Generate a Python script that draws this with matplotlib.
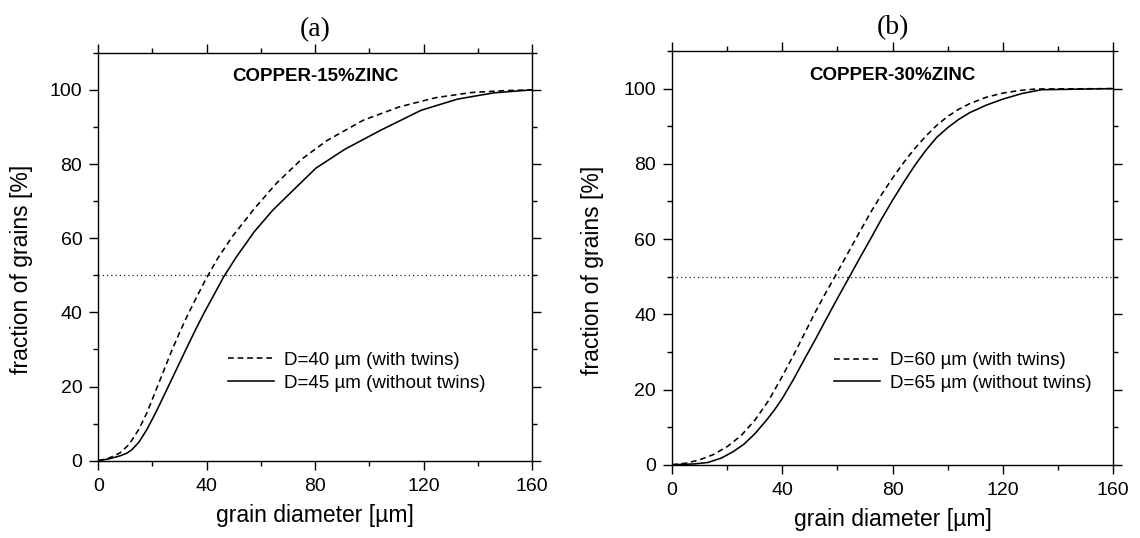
import matplotlib
matplotlib.use("Agg")
import matplotlib.pyplot as plt
from matplotlib.ticker import FixedLocator

plt.rcParams["font.family"] = ["Liberation Sans", "DejaVu Sans"]

# Cumulative grain-size distributions, Cu-15%Zn
cu15_twins_x = [0, 4, 8, 11.4, 15, 18, 21, 24, 27, 30, 33, 36, 39.5, 44, 49.5,
                57.6, 65.7, 75, 84.3, 97.7, 111, 124.5, 137.9, 150, 160]
cu15_twins_y = [0, 0.7, 2.1, 4.4, 8.5, 13, 18.5, 24, 29.5, 34.6, 39.3, 43.7, 48.7,
                54.5, 60.5, 68, 74.8, 81.3, 86.3, 91.8, 95.4, 97.9, 99.3, 99.8, 100]
cu15_notwins_x = [0, 4, 8, 10.5, 12.3, 15, 18, 21, 24, 27, 30, 33, 36, 39, 42.5,
                  46.2, 50.9, 57.6, 64.3, 71, 80.3, 91, 104.4, 119.1, 132.5,
                  145.9, 160]
cu15_notwins_y = [0, 0.5, 1.3, 2.0, 2.9, 5.0, 8.5, 12.7, 17.2, 21.8, 26.4, 31.0,
                  35.5, 39.8, 44.5, 49.5, 54.9, 61.8, 67.5, 72.3, 78.9, 84.0,
                  89.2, 94.5, 97.5, 99.2, 100]

# Cumulative grain-size distributions, Cu-30%Zn
cu30_twins_x = [0, 5, 10, 15, 20, 25, 30, 35, 40, 44, 48, 52, 56, 59.1, 64, 68, 72,
                76, 80, 84, 88, 92, 96, 100, 104, 108, 114, 120, 126, 132, 160]
cu30_twins_y = [0, 0.4, 1.3, 2.7, 4.8, 7.7, 11.8, 17, 23.5, 29, 34.8, 40.6, 46,
                50, 56.5, 61.8, 67, 71.8, 76.2, 80.3, 84, 87.3, 90.2, 92.6, 94.5,
                96, 97.7, 98.8, 99.5, 99.9, 100]
cu30_notwins_x = [0, 8, 13, 18, 22, 26, 30, 34, 37, 40, 44, 48, 52, 56, 60, 64.4,
                  68, 72, 76, 80, 84, 88, 92, 96, 100, 104, 108, 114, 120, 127,
                  134, 160]
cu30_notwins_y = [0, 0.2, 0.6, 1.8, 3.4, 5.4, 8.2, 11.6, 14.4, 17.6, 22.6, 28,
                  33.3, 38.8, 44.2, 50, 54.8, 60, 65.3, 70.3, 75, 79.5, 83.5, 87,
                  89.6, 91.8, 93.6, 95.6, 97.2, 98.7, 99.7, 100]

panel_tags = ["(a)", "(b)"]
alloy_names = ["COPPER-15%ZINC", "COPPER-30%ZINC"]
labels_twins = ["D=40 µm (with twins)", "D=60 µm (with twins)"]
labels_notwins = ["D=45 µm (without twins)", "D=65 µm (without twins)"]
x_major = [0, 40, 80, 120, 160]
x_minor = [20, 60, 100, 140]
y_major = [0, 20, 40, 60, 80, 100]
y_minor = [10, 30, 50, 70, 90, 110]
median_level = 50

fig = plt.figure(figsize=(11.4, 5.38), dpi=100)
axes_rects = [[0.0862, 0.1437, 0.3805, 0.7582],
              [0.5895, 0.1362, 0.3868, 0.7690]]
legend_anchor = [(0.300, 0.218), (0.368, 0.224)]
ylabel_x = [-0.150, -0.154]

series = [
    (cu15_twins_x, cu15_twins_y, cu15_notwins_x, cu15_notwins_y),
    (cu30_twins_x, cu30_twins_y, cu30_notwins_x, cu30_notwins_y),
]

for i, rect in enumerate(axes_rects):
    ax = fig.add_axes(rect)
    tx, ty, nx, ny = series[i]
    ax.axhline(median_level, color="0.15", lw=0.9, ls=(0, (1, 2.4)), zorder=1)
    ax.plot(tx, ty, color="black", lw=1.15, ls=(0, (3.6, 2.4)),
            label=labels_twins[i], zorder=3)
    ax.plot(nx, ny, color="black", lw=1.15, ls="-",
            label=labels_notwins[i], zorder=3)

    ax.set_xlim(0, 160)
    ax.set_ylim(0, 110)
    ax.xaxis.set_major_locator(FixedLocator(x_major))
    ax.xaxis.set_minor_locator(FixedLocator(x_minor))
    ax.yaxis.set_major_locator(FixedLocator(y_major))
    ax.yaxis.set_minor_locator(FixedLocator(y_minor))
    ax.tick_params(which="both", direction="out", top=True, right=True,
                   width=1.0, color="black")
    ax.tick_params(which="major", length=6.5, labelsize=14, pad=5)
    ax.tick_params(which="minor", length=3.3)
    ax.tick_params(axis="x", which="major", pad=6)
    for sp in ax.spines.values():
        sp.set_linewidth(1.0)

    ax.set_xlabel("grain diameter [µm]", fontsize=16.5)
    ax.xaxis.set_label_coords(0.5, -0.105)
    ax.set_ylabel("fraction of grains [%]", fontsize=16.5)
    ax.yaxis.set_label_coords(ylabel_x[i], 0.47)

    ax.set_title(panel_tags[i], fontsize=20, family=["Liberation Serif"], pad=12)
    ax.text(80, 103.5, alloy_names[i], ha="center", va="center",
            fontsize=13.5, fontweight="bold")

    ax.legend(loc="center left", bbox_to_anchor=legend_anchor[i], frameon=False,
              fontsize=13.5, handlelength=2.45, handletextpad=0.5,
              labelspacing=0.3, borderpad=0, borderaxespad=0)

fig.savefig("out.png", dpi=100)
